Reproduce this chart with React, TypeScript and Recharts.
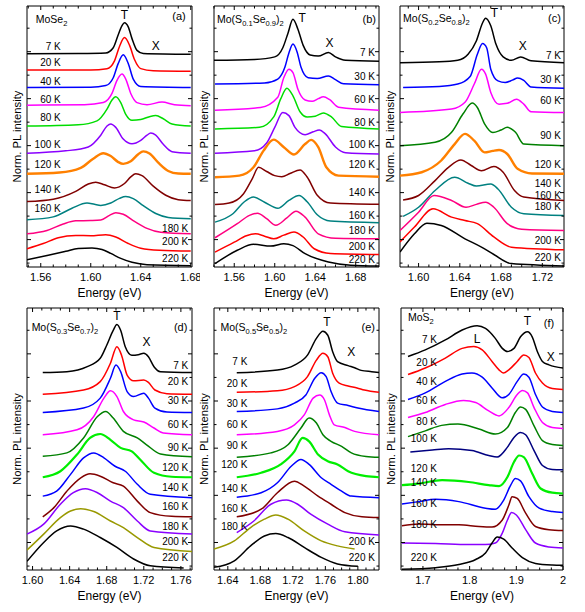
import React from 'react';
import { LineChart, Line, XAxis, YAxis, ReferenceDot, ReferenceArea } from 'recharts';

type Pt = [number, number];
const FONT = '"Liberation Sans", Arial, Helvetica, sans-serif';

// ---------------- Panel (a) MoSe2 ----------------
const tempsA = ['7 K', '20 K', '40 K', '60 K', '80 K', '100 K', '120 K', '140 K', '160 K', '180 K', '200 K', '220 K'];
const spectraA: Pt[][] = [
  [[1.549,8.17],[1.590,8.18],[1.612,8.20],[1.618,8.40],[1.622,8.90],[1.625,9.25],[1.627,9.36],[1.630,9.20],[1.633,8.75],[1.637,8.30],[1.642,8.18],[1.680,8.15]],
  [[1.549,7.55],[1.600,7.55],[1.613,7.60],[1.619,7.90],[1.623,8.45],[1.627,8.79],[1.631,8.50],[1.635,7.95],[1.640,7.60],[1.650,7.52],[1.680,7.50]],
  [[1.549,6.88],[1.600,6.89],[1.612,6.95],[1.618,7.25],[1.622,7.80],[1.626,8.13],[1.630,7.80],[1.634,7.20],[1.640,6.92],[1.680,6.88]],
  [[1.549,6.20],[1.595,6.22],[1.610,6.30],[1.617,6.65],[1.621,7.15],[1.625,7.39],[1.628,7.20],[1.632,6.65],[1.637,6.30],[1.645,6.22],[1.657,6.32],[1.667,6.22],[1.680,6.18]],
  [[1.549,5.40],[1.590,5.45],[1.605,5.60],[1.613,6.05],[1.617,6.40],[1.620,6.52],[1.624,6.30],[1.628,5.85],[1.633,5.62],[1.640,5.65],[1.647,5.76],[1.652,5.80],[1.658,5.68],[1.665,5.48],[1.680,5.40]],
  [[1.549,4.36],[1.580,4.45],[1.598,4.60],[1.608,5.05],[1.613,5.40],[1.616,5.48],[1.620,5.35],[1.626,4.90],[1.633,4.72],[1.640,4.85],[1.645,5.05],[1.648,5.13],[1.652,5.05],[1.658,4.70],[1.665,4.42],[1.680,4.36]],
  [[1.549,3.57],[1.575,3.62],[1.592,3.80],[1.602,4.15],[1.610,4.36],[1.616,4.25],[1.622,4.02],[1.626,3.95],[1.632,4.05],[1.638,4.32],[1.642,4.43],[1.647,4.35],[1.654,4.00],[1.662,3.68],[1.670,3.58],[1.680,3.57]],
  [[1.549,2.51],[1.570,2.60],[1.588,2.90],[1.598,3.18],[1.604,3.25],[1.611,3.15],[1.619,3.03],[1.627,3.20],[1.632,3.45],[1.636,3.57],[1.641,3.50],[1.650,3.10],[1.660,2.75],[1.670,2.58],[1.680,2.55]],
  [[1.549,1.81],[1.570,1.92],[1.585,2.25],[1.597,2.45],[1.603,2.40],[1.608,2.36],[1.616,2.45],[1.623,2.63],[1.628,2.70],[1.634,2.62],[1.642,2.35],[1.652,2.05],[1.662,1.90],[1.680,1.85]],
  [[1.549,1.27],[1.565,1.40],[1.578,1.65],[1.588,1.77],[1.600,1.78],[1.608,1.80],[1.615,1.98],[1.620,2.08],[1.626,2.02],[1.635,1.75],[1.645,1.48],[1.656,1.33],[1.680,1.27]],
  [[1.549,0.70],[1.562,0.90],[1.574,1.12],[1.588,1.21],[1.600,1.20],[1.612,1.24],[1.620,1.15],[1.630,0.90],[1.640,0.72],[1.655,0.64],[1.680,0.61]],
  [[1.549,0.28],[1.566,0.45],[1.580,0.60],[1.590,0.71],[1.601,0.73],[1.609,0.67],[1.616,0.52],[1.624,0.33],[1.633,0.18],[1.645,0.09],[1.680,0.05]],
];
const tempXA = [1.576,1.576,1.576,1.576,1.576,1.576,1.576,1.576,1.576,1.678,1.678,1.678];
const tempYA = [8.47,7.83,7.13,6.43,5.73,4.71,3.95,2.99,2.23,1.46,0.99,0.32];
const ticksA = [1.56, 1.60, 1.64, 1.68];

// ---------------- Panel (b) Mo(S0.1Se0.9)2 ----------------
const tempsB = ['7 K', '30 K', '60 K', '80 K', '100 K', '120 K', '140 K', '160 K', '180 K', '200 K', '220 K'];
const spectraB: Pt[][] = [
  [[1.540,7.92],[1.580,7.95],[1.600,8.05],[1.608,8.40],[1.613,8.95],[1.618,9.49],[1.623,9.10],[1.628,8.50],[1.635,8.12],[1.643,8.08],[1.653,8.22],[1.660,8.05],[1.670,7.92],[1.703,7.88]],
  [[1.541,7.01],[1.590,7.05],[1.603,7.20],[1.610,7.65],[1.614,8.20],[1.618,8.54],[1.622,8.25],[1.626,7.65],[1.633,7.25],[1.642,7.22],[1.653,7.32],[1.660,7.18],[1.668,7.02],[1.703,6.98]],
  [[1.541,6.01],[1.586,6.11],[1.603,6.50],[1.609,7.26],[1.614,7.58],[1.618,7.45],[1.623,6.80],[1.630,6.40],[1.637,6.35],[1.643,6.45],[1.648,6.52],[1.654,6.42],[1.663,6.12],[1.703,6.01]],
  [[1.541,5.29],[1.585,5.35],[1.599,5.75],[1.606,6.45],[1.612,6.85],[1.618,6.56],[1.625,5.95],[1.632,5.75],[1.640,5.78],[1.648,5.90],[1.656,5.75],[1.666,5.38],[1.703,5.29]],
  [[1.541,4.36],[1.580,4.45],[1.592,4.75],[1.600,5.35],[1.608,5.92],[1.614,5.80],[1.620,5.35],[1.630,5.07],[1.638,5.18],[1.644,5.25],[1.650,5.10],[1.660,4.60],[1.670,4.38],[1.703,4.33]],
  [[1.541,3.44],[1.565,3.50],[1.579,3.82],[1.589,4.46],[1.599,4.88],[1.609,4.59],[1.619,4.31],[1.630,4.71],[1.636,4.87],[1.643,4.59],[1.651,3.82],[1.663,3.50],[1.703,3.46]],
  [[1.541,2.39],[1.555,2.45],[1.569,2.80],[1.578,3.40],[1.584,3.82],[1.592,3.66],[1.600,3.50],[1.607,3.46],[1.615,3.58],[1.625,3.72],[1.632,3.45],[1.642,2.75],[1.655,2.45],[1.703,2.40]],
  [[1.541,1.72],[1.559,2.05],[1.570,2.50],[1.579,2.68],[1.590,2.48],[1.603,2.25],[1.614,2.55],[1.624,2.74],[1.632,2.50],[1.642,2.00],[1.655,1.76],[1.703,1.70]],
  [[1.541,1.12],[1.563,1.66],[1.575,1.98],[1.583,2.06],[1.592,1.85],[1.601,1.60],[1.612,1.88],[1.621,2.14],[1.630,1.91],[1.643,1.27],[1.660,1.10],[1.703,1.08]],
  [[1.541,0.57],[1.560,0.95],[1.572,1.20],[1.581,1.27],[1.590,1.18],[1.599,1.08],[1.609,1.22],[1.619,1.34],[1.628,1.15],[1.639,0.70],[1.655,0.52],[1.703,0.48]],
  [[1.541,0.13],[1.563,0.64],[1.579,0.87],[1.596,0.80],[1.609,0.89],[1.618,0.82],[1.630,0.51],[1.653,0.19],[1.675,0.07],[1.703,0.04]],
];
const tempXB = [1.699,1.699,1.699,1.699,1.699,1.699,1.699,1.699,1.699,1.699,1.699];
const tempYB = [8.22,7.32,6.43,5.54,4.71,3.95,2.84,1.97,1.40,0.79,0.28];
const ticksB = [1.56, 1.60, 1.64, 1.68];

// ---------------- Panel (c) Mo(S0.2Se0.8)2 ----------------
const tempsC = ['7 K', '30 K', '60 K', '90 K', '120 K', '140 K', '160 K', '180 K', '200 K', '220 K'];
const spectraC: Pt[][] = [
  [[1.582,7.83],[1.620,7.86],[1.638,7.92],[1.648,8.15],[1.656,8.66],[1.662,9.35],[1.665,9.53],[1.670,9.24],[1.675,8.54],[1.682,8.05],[1.690,7.92],[1.699,8.05],[1.709,7.90],[1.741,7.83]],
  [[1.585,6.88],[1.620,6.92],[1.638,7.01],[1.650,7.30],[1.657,8.15],[1.662,8.56],[1.666,8.40],[1.670,7.58],[1.677,7.13],[1.684,7.07],[1.691,7.16],[1.696,7.24],[1.702,7.15],[1.709,6.90],[1.741,6.85]],
  [[1.582,5.92],[1.632,6.05],[1.645,6.31],[1.654,7.01],[1.661,7.58],[1.665,7.39],[1.670,6.69],[1.678,6.24],[1.686,6.27],[1.695,6.43],[1.702,6.24],[1.709,5.95],[1.741,5.92]],
  [[1.582,4.65],[1.616,4.78],[1.632,5.16],[1.643,5.86],[1.652,6.28],[1.657,6.11],[1.664,5.48],[1.672,5.15],[1.680,5.25],[1.686,5.35],[1.694,5.16],[1.702,4.71],[1.741,4.65]],
  [[1.582,3.50],[1.603,3.63],[1.622,4.08],[1.635,4.71],[1.645,5.10],[1.654,4.84],[1.664,4.39],[1.672,4.45],[1.678,4.48],[1.686,4.33],[1.696,3.76],[1.710,3.58],[1.741,3.57]],
  [[1.585,2.57],[1.600,2.74],[1.616,3.31],[1.629,3.82],[1.641,4.10],[1.651,3.89],[1.661,3.69],[1.673,3.85],[1.682,3.63],[1.693,2.93],[1.702,2.68],[1.741,2.55]],
  [[1.585,1.94],[1.600,2.29],[1.616,2.93],[1.635,3.44],[1.648,3.21],[1.656,3.10],[1.670,3.18],[1.677,2.99],[1.690,2.29],[1.702,2.04],[1.741,1.97]],
  [[1.582,1.40],[1.600,2.10],[1.615,2.74],[1.632,2.55],[1.646,2.29],[1.656,2.40],[1.665,2.48],[1.673,2.29],[1.686,1.66],[1.700,1.45],[1.741,1.40]],
  [[1.582,0.96],[1.596,1.53],[1.614,2.23],[1.632,1.91],[1.645,1.78],[1.657,1.66],[1.673,1.15],[1.690,0.76],[1.741,0.66]],
  [[1.582,0.57],[1.596,1.27],[1.608,1.68],[1.622,1.59],[1.645,1.08],[1.661,0.76],[1.673,0.48],[1.690,0.13],[1.741,0.04]],
];
const tempXC = [1.738,1.738,1.738,1.738,1.738,1.738,1.738,1.738,1.738,1.738];
const tempYC = [8.09,7.20,6.37,5.03,3.95,3.21,2.76,2.32,1.02,0.38];
const ticksC = [1.60, 1.64, 1.68, 1.72];

// ---------------- Panel (d) Mo(S0.3Se0.7)2 ----------------
const tempsD = ['7 K', '20 K', '30 K', '60 K', '90 K', '120 K', '140 K', '160 K', '180 K', '200 K', '220 K'];
const spectraD: Pt[][] = [
  [[1.611,7.54],[1.637,7.57],[1.659,7.76],[1.673,8.08],[1.680,8.58],[1.687,9.15],[1.691,9.37],[1.695,9.15],[1.700,8.52],[1.707,8.20],[1.714,8.22],[1.720,8.27],[1.725,8.14],[1.731,7.76],[1.738,7.57],[1.772,7.54]],
  [[1.611,6.71],[1.655,6.87],[1.673,7.19],[1.684,7.89],[1.691,8.52],[1.696,8.20],[1.702,7.44],[1.709,7.22],[1.720,7.25],[1.725,7.16],[1.732,6.87],[1.745,6.73],[1.772,6.71]],
  [[1.611,6.01],[1.655,6.18],[1.673,6.56],[1.684,7.32],[1.690,7.82],[1.695,7.57],[1.702,6.81],[1.709,6.62],[1.720,6.75],[1.725,6.56],[1.732,6.18],[1.745,6.03],[1.772,6.01]],
  [[1.611,5.16],[1.648,5.35],[1.666,5.86],[1.677,6.56],[1.684,6.84],[1.691,6.62],[1.698,6.05],[1.709,5.73],[1.720,5.65],[1.731,5.42],[1.741,5.23],[1.772,5.16]],
  [[1.611,4.34],[1.637,4.47],[1.655,5.04],[1.670,5.86],[1.679,6.05],[1.687,5.80],[1.698,5.29],[1.713,5.04],[1.723,4.78],[1.738,4.43],[1.772,4.32]],
  [[1.611,3.54],[1.630,3.77],[1.648,4.41],[1.662,5.04],[1.673,5.19],[1.684,4.97],[1.695,4.66],[1.707,4.53],[1.716,4.22],[1.731,3.71],[1.750,3.56],[1.772,3.54]],
  [[1.611,2.82],[1.626,3.01],[1.641,3.65],[1.655,4.28],[1.666,4.47],[1.677,4.28],[1.689,3.96],[1.700,3.77],[1.713,3.27],[1.727,2.89],[1.772,2.76]],
  [[1.611,2.03],[1.623,2.38],[1.637,3.01],[1.652,3.52],[1.662,3.67],[1.673,3.58],[1.687,3.33],[1.698,3.20],[1.713,2.63],[1.727,2.19],[1.750,2.05],[1.772,2.03]],
  [[1.594,1.37],[1.612,1.75],[1.630,2.51],[1.644,2.95],[1.657,3.10],[1.670,2.95],[1.684,2.63],[1.698,2.38],[1.713,1.87],[1.727,1.49],[1.772,1.37]],
  [[1.594,0.76],[1.612,1.37],[1.630,2.00],[1.641,2.25],[1.652,2.34],[1.666,2.23],[1.684,1.87],[1.698,1.62],[1.713,1.24],[1.731,0.86],[1.772,0.71]],
  [[1.594,0.33],[1.612,1.05],[1.626,1.49],[1.641,1.68],[1.655,1.56],[1.673,1.24],[1.691,0.86],[1.709,0.42],[1.727,0.16],[1.763,0.08]],
];
const tempXD = [1.768,1.768,1.768,1.768,1.768,1.768,1.768,1.768,1.768,1.768,1.768];
const tempYD = [7.82,7.19,6.46,5.57,4.68,3.90,3.14,2.41,1.68,1.09,0.48];
const ticksD = [1.60, 1.64, 1.68, 1.72, 1.76];

// ---------------- Panel (e) Mo(S0.5Se0.5)2 ----------------
const tempsE = ['7 K', '20 K', '30 K', '60 K', '90 K', '120 K', '140 K', '160 K', '180 K', '200 K', '220 K'];
const spectraE: Pt[][] = [
  [[1.651,7.53],[1.701,7.63],[1.722,7.82],[1.738,8.20],[1.749,8.84],[1.757,9.11],[1.763,8.96],[1.769,8.33],[1.775,7.95],[1.788,7.80],[1.796,7.72],[1.804,7.62],[1.817,7.57],[1.826,7.54]],
  [[1.651,6.78],[1.701,6.84],[1.722,7.00],[1.738,7.38],[1.749,8.01],[1.757,8.27],[1.763,8.14],[1.769,7.51],[1.777,7.13],[1.788,7.02],[1.799,6.95],[1.808,6.87],[1.826,6.78]],
  [[1.651,6.05],[1.701,6.15],[1.722,6.37],[1.736,6.68],[1.747,7.32],[1.755,7.53],[1.761,7.38],[1.767,6.81],[1.775,6.37],[1.788,6.28],[1.800,6.18],[1.826,6.05]],
  [[1.651,5.16],[1.701,5.29],[1.722,5.54],[1.734,5.92],[1.745,6.56],[1.753,6.68],[1.759,6.49],[1.765,5.92],[1.771,5.54],[1.784,5.44],[1.796,5.29],[1.826,5.16]],
  [[1.651,4.30],[1.693,4.47],[1.714,4.78],[1.730,5.42],[1.740,5.80],[1.749,5.61],[1.757,5.16],[1.767,4.91],[1.780,4.72],[1.792,4.47],[1.810,4.33],[1.826,4.30]],
  [[1.651,3.54],[1.681,3.71],[1.705,4.03],[1.722,4.53],[1.732,5.04],[1.740,4.91],[1.751,4.41],[1.763,4.15],[1.775,4.03],[1.788,3.77],[1.810,3.58],[1.826,3.54]],
  [[1.651,2.78],[1.681,2.95],[1.701,3.33],[1.718,3.96],[1.730,4.22],[1.740,4.03],[1.755,3.52],[1.767,3.27],[1.780,3.01],[1.792,2.82],[1.826,2.76]],
  [[1.651,2.03],[1.681,2.32],[1.701,2.95],[1.722,3.39],[1.734,3.20],[1.751,2.82],[1.767,2.51],[1.784,2.19],[1.805,2.03],[1.826,2.00]],
  [[1.651,1.43],[1.672,1.87],[1.693,2.51],[1.712,2.67],[1.726,2.51],[1.742,2.13],[1.763,1.75],[1.784,1.46],[1.826,1.34]],
  [[1.623,0.80],[1.648,1.11],[1.668,1.62],[1.685,1.94],[1.699,2.10],[1.714,1.94],[1.734,1.49],[1.755,1.11],[1.775,0.92],[1.796,0.80]],
  [[1.623,0.10],[1.648,0.35],[1.668,0.92],[1.685,1.30],[1.699,1.39],[1.714,1.24],[1.734,0.86],[1.755,0.48],[1.775,0.23],[1.800,0.14]],
];
const tempXE = [1.664,1.664,1.664,1.664,1.664,1.664,1.664,1.664,1.664,1.821,1.821];
const tempYE = [7.95,7.13,6.37,5.54,4.76,4.03,3.11,2.35,1.68,1.11,0.48];
const ticksE = [1.64, 1.68, 1.72, 1.76, 1.80];

// ---------------- Panel (f) MoS2 ----------------
const tempsF = ['7 K', '20 K', '40 K', '60 K', '80 K', '100 K', '120 K', '140 K', '160 K', '180 K', '220 K'];
const spectraF: Pt[][] = [
  [[1.668,8.15],[1.705,8.40],[1.748,8.78],[1.784,9.16],[1.816,9.32],[1.834,9.22],[1.855,8.84],[1.870,8.46],[1.881,8.34],[1.895,8.46],[1.909,8.90],[1.924,9.09],[1.934,8.90],[1.945,8.34],[1.956,7.96],[1.970,7.83],[2.000,7.71]],
  [[1.668,7.46],[1.705,7.71],[1.748,8.09],[1.784,8.46],[1.809,8.53],[1.827,8.40],[1.848,7.96],[1.863,7.64],[1.872,7.52],[1.884,7.64],[1.902,7.96],[1.916,8.21],[1.927,8.11],[1.941,7.52],[1.956,7.14],[1.977,6.93],[2.000,6.89]],
  [[1.668,6.51],[1.705,6.76],[1.748,7.20],[1.784,7.48],[1.805,7.52],[1.827,7.36],[1.848,6.95],[1.870,6.57],[1.884,6.70],[1.902,7.20],[1.916,7.48],[1.927,7.36],[1.941,6.70],[1.956,6.22],[1.977,6.05],[2.000,6.01]],
  [[1.668,5.82],[1.705,6.01],[1.748,6.32],[1.787,6.47],[1.813,6.39],[1.841,6.07],[1.863,5.88],[1.884,6.20],[1.902,6.70],[1.913,6.85],[1.924,6.76],[1.938,6.20],[1.956,5.63],[1.977,5.44],[2.000,5.40]],
  [[1.668,5.09],[1.705,5.31],[1.740,5.52],[1.775,5.57],[1.820,5.38],[1.855,5.19],[1.881,5.44],[1.898,6.01],[1.909,6.22],[1.920,6.13],[1.938,5.50],[1.956,4.94],[1.977,4.79],[2.000,4.75]],
  [[1.673,4.50],[1.720,4.58],[1.755,4.63],[1.805,4.56],[1.841,4.37],[1.859,4.31],[1.881,4.69],[1.895,5.06],[1.909,5.25],[1.920,5.16],[1.938,4.56],[1.956,3.99],[1.977,3.84],[2.000,3.83]],
  [[1.655,3.24],[1.691,3.30],[1.741,3.43],[1.798,3.36],[1.841,3.24],[1.863,3.20],[1.881,3.55],[1.895,4.12],[1.906,4.37],[1.916,4.31],[1.934,3.68],[1.952,3.11],[1.977,2.95],[2.000,2.92]],
  [[1.655,2.52],[1.691,2.61],[1.727,2.70],[1.777,2.61],[1.834,2.36],[1.855,2.32],[1.873,2.67],[1.888,3.24],[1.898,3.49],[1.909,3.40],[1.927,2.80],[1.949,2.36],[1.977,2.23],[2.000,2.19]],
  [[1.655,1.69],[1.691,1.76],[1.727,1.73],[1.777,1.73],[1.820,1.66],[1.848,1.64],[1.870,1.91],[1.884,2.48],[1.891,2.80],[1.902,2.73],[1.920,2.17],[1.941,1.66],[1.970,1.54],[2.000,1.51]],
  [[1.655,1.03],[1.727,1.01],[1.798,0.97],[1.834,0.97],[1.855,1.03],[1.870,1.41],[1.881,1.91],[1.890,2.19],[1.900,2.10],[1.920,1.54],[1.941,1.03],[1.970,0.88],[2.000,0.84]],
  [[1.655,0.03],[1.727,0.09],[1.777,0.21],[1.813,0.40],[1.834,0.65],[1.848,1.03],[1.859,1.26],[1.873,1.18],[1.891,0.84],[1.913,0.47],[1.941,0.25],[1.977,0.19],[2.000,0.18]],
];
const tempXF = [1.730,1.730,1.730,1.730,1.730,1.730,1.730,1.730,1.730,1.730,1.730];
const tempYF = [8.82,7.93,7.20,6.47,5.67,5.04,3.87,3.33,2.54,1.73,0.47];
const ticksF = [1.7, 1.8, 1.9, 2.0];

// ---------------- styling ----------------
const BLACK = '#000000', RED = '#ff0000', BLUE = '#0000ff', MAG = '#ff00ff', GREEN = '#00dd00',
  PURPLE = '#8a00ff', ORANGE = '#ff8000', BROWN = '#800000', TEAL = '#008080', PINK = '#ff0080',
  DKGREEN = '#008000', LTGREEN = '#00ee00', OLIVE = '#999900', NAVY = '#000080';
const colorsA = [BLACK, RED, BLUE, MAG, GREEN, PURPLE, ORANGE, BROWN, TEAL, PINK, RED, BLACK];
const colorsB = [BLACK, BLUE, MAG, GREEN, PURPLE, ORANGE, BROWN, TEAL, PINK, RED, BLACK];
const colorsC = [BLACK, BLUE, MAG, DKGREEN, ORANGE, BROWN, TEAL, PINK, RED, BLACK];
const colorsD = [BLACK, RED, BLUE, MAG, DKGREEN, LTGREEN, BLUE, BROWN, PURPLE, OLIVE, BLACK];
const colorsE = [BLACK, RED, BLUE, MAG, DKGREEN, LTGREEN, BLUE, BROWN, PURPLE, OLIVE, BLACK];
const colorsF = [BLACK, RED, BLUE, MAG, DKGREEN, NAVY, LTGREEN, BLUE, BROWN, PURPLE, BLACK];

const yMajor = [1.05, 2.85, 4.65, 6.45, 8.25];
const yMinor = [0.15, 1.95, 3.75, 5.55, 7.35, 9.15];

type Note = { text: string[]; x: number; y: number; anchor: 'start' | 'middle' | 'end'; size: number };

type Panel = {
  left: number; top: number; w: number; h: number;
  domain: [number, number]; majors: number[]; minorStep: number; twoDec: boolean;
  curves: Pt[][]; colors: string[]; temps: string[]; tx: number[]; ty: number[];
  notes: Note[];
};

const panels: Panel[] = [
  { left: 27, top: 5, w: 165, h: 262, domain: [1.549, 1.681], majors: ticksA, minorStep: 0.01, twoDec: true,
    curves: spectraA, colors: colorsA, temps: tempsA, tx: tempXA, ty: tempYA,
    notes: [
      { text: ['MoSe', '_2'], x: 1.556, y: 9.49, anchor: 'start', size: 10.5 },
      { text: ['T'], x: 1.627, y: 9.68, anchor: 'middle', size: 12 },
      { text: ['X'], x: 1.652, y: 8.47, anchor: 'middle', size: 12 },
      { text: ['(a)'], x: 1.676, y: 9.62, anchor: 'end', size: 11 },
    ] },
  { left: 214, top: 5, w: 165, h: 262, domain: [1.540, 1.703], majors: ticksB, minorStep: 0.01, twoDec: true,
    curves: spectraB, colors: colorsB, temps: tempsB, tx: tempXB, ty: tempYB,
    notes: [
      { text: ['Mo(S', '_0.1', 'Se', '_0.9', ')', '_2'], x: 1.543, y: 9.49, anchor: 'start', size: 10.5 },
      { text: ['T'], x: 1.627, y: 9.55, anchor: 'middle', size: 12 },
      { text: ['X'], x: 1.654, y: 8.60, anchor: 'middle', size: 12 },
      { text: ['(b)'], x: 1.700, y: 9.49, anchor: 'end', size: 11 },
    ] },
  { left: 400, top: 5, w: 164, h: 262, domain: [1.582, 1.741], majors: ticksC, minorStep: 0.01, twoDec: true,
    curves: spectraC, colors: colorsC, temps: tempsC, tx: tempXC, ty: tempYC,
    notes: [
      { text: ['Mo(S', '_0.2', 'Se', '_0.8', ')', '_2'], x: 1.585, y: 9.55, anchor: 'start', size: 10.5 },
      { text: ['T'], x: 1.6735, y: 9.75, anchor: 'middle', size: 12 },
      { text: ['X'], x: 1.701, y: 8.47, anchor: 'middle', size: 12 },
      { text: ['(c)'], x: 1.738, y: 9.55, anchor: 'end', size: 11 },
    ] },
  { left: 27, top: 307, w: 165, h: 263, domain: [1.594, 1.772], majors: ticksD, minorStep: 0.01, twoDec: true,
    curves: spectraD, colors: colorsD, temps: tempsD, tx: tempXD, ty: tempYD,
    notes: [
      { text: ['Mo(S', '_0.3', 'Se', '_0.7', ')', '_2'], x: 1.599, y: 9.28, anchor: 'start', size: 10.5 },
      { text: ['T'], x: 1.691, y: 9.72, anchor: 'middle', size: 12 },
      { text: ['X'], x: 1.723, y: 8.73, anchor: 'middle', size: 12 },
      { text: ['(d)'], x: 1.767, y: 9.28, anchor: 'end', size: 11 },
    ] },
  { left: 214, top: 307, w: 165, h: 263, domain: [1.623, 1.826], majors: ticksE, minorStep: 0.01, twoDec: true,
    curves: spectraE, colors: colorsE, temps: tempsE, tx: tempXE, ty: tempYE,
    notes: [
      { text: ['Mo(S', '_0.5', 'Se', '_0.5', ')', '_2'], x: 1.631, y: 9.28, anchor: 'start', size: 10.5 },
      { text: ['T'], x: 1.762, y: 9.49, anchor: 'middle', size: 12 },
      { text: ['X'], x: 1.792, y: 8.35, anchor: 'middle', size: 12 },
      { text: ['(e)'], x: 1.821, y: 9.28, anchor: 'end', size: 11 },
    ] },
  { left: 401, top: 307, w: 162, h: 263, domain: [1.653, 2.0], majors: ticksF, minorStep: 0.025, twoDec: false,
    curves: spectraF, colors: colorsF, temps: tempsF, tx: tempXF, ty: tempYF,
    notes: [
      { text: ['MoS', '_2'], x: 1.668, y: 9.66, anchor: 'start', size: 10.5 },
      { text: ['L'], x: 1.816, y: 8.84, anchor: 'middle', size: 12 },
      { text: ['T'], x: 1.924, y: 9.53, anchor: 'middle', size: 12 },
      { text: ['X'], x: 1.974, y: 8.15, anchor: 'middle', size: 12 },
      { text: ['(f)'], x: 1.981, y: 9.41, anchor: 'end', size: 11 },
    ] },
];

function makeTicks(lo: number, hi: number, step: number): number[] {
  const out: number[] = [];
  const start = Math.ceil(lo / step - 1e-6);
  for (let i = start; i * step <= hi + 1e-6; i++) out.push(Number((i * step).toFixed(4)));
  return out;
}

function richText(segs: string[], size: number) {
  let sub = false;
  return segs.map((s, i) => {
    const isSub = s.startsWith('_');
    const txt = isSub ? s.slice(1) : s;
    let dy = 0;
    if (isSub && !sub) dy = size * 0.32;
    if (!isSub && sub) dy = -size * 0.32;
    sub = isSub;
    return (
      <tspan key={i} dy={dy} fontSize={isSub ? size * 0.72 : size}>{txt}</tspan>
    );
  });
}

function textShape(segs: string[], anchor: string, size: number) {
  return (props: any) => (
    <text x={props.cx} y={props.cy + size * 0.36} textAnchor={anchor} fontSize={size}
      fontFamily={FONT} fill="#000">
      {richText(segs, size)}
    </text>
  );
}

const yTitleShape = (props: any) => {
  const cx = props.cx - 10;
  const cy = props.cy;
  return (
    <text x={cx} y={cy} textAnchor="middle" dominantBaseline="central" fontSize={11.3} fontFamily={FONT} fill="#000"
      transform={`rotate(-90, ${cx}, ${cy})`}>
      Norm. PL intensity
    </text>
  );
};

function PanelChart({ p }: { p: Panel }) {
  const ML = 24, MR = 7, MT = 5, XH = 38;
  const width = ML + 1 + p.w + 1 + MR;
  const height = MT + p.h + XH;
  const xt = makeTicks(p.domain[0], p.domain[1], p.minorStep);
  const isMajor = (v: number) => p.majors.some((m) => Math.abs(m - v) < 1e-6);
  const fmt = (v: number) => (p.twoDec ? v.toFixed(2) : String(Number(v.toFixed(2))));
  const yt = [...yMajor, ...yMinor].sort((a, b) => a - b);
  const isYMajor = (v: number) => yMajor.some((m) => Math.abs(m - v) < 1e-6);

  const bottomTick = (t: any) => {
    const v = t.payload.value;
    const maj = isMajor(v);
    return (
      <g>
        <line x1={t.x} x2={t.x} y1={t.y} y2={t.y - (maj ? 4 : 2.5)} stroke="#000" strokeWidth={1} />
        {maj && (
          <text x={t.x} y={t.y + 14} textAnchor="middle" fontSize={11} fontFamily={FONT} fill="#000">{fmt(v)}</text>
        )}
      </g>
    );
  };
  const topTick = (t: any) => {
    const maj = isMajor(t.payload.value);
    return <line x1={t.x} x2={t.x} y1={t.y} y2={t.y + (maj ? 4 : 2.5)} stroke="#000" strokeWidth={1} />;
  };
  const leftTick = (t: any) => {
    const maj = isYMajor(t.payload.value);
    return <line x1={t.x} x2={t.x + (maj ? 4 : 2.5)} y1={t.y} y2={t.y} stroke="#000" strokeWidth={1} />;
  };
  const rightTick = (t: any) => {
    const maj = isYMajor(t.payload.value);
    return <line x1={t.x} x2={t.x - (maj ? 4 : 2.5)} y1={t.y} y2={t.y} stroke="#000" strokeWidth={1} />;
  };
  const xTitle = (lp: any) => {
    const vb = lp.viewBox || {};
    return (
      <text x={vb.x + vb.width / 2} y={vb.y + 30} textAnchor="middle" fontSize={12} fontFamily={FONT} fill="#000">
        Energy (eV)
      </text>
    );
  };

  return (
    <div style={{ position: 'absolute', left: p.left - ML - 1, top: p.top - MT }}>
      <LineChart width={width} height={height} margin={{ top: MT, right: MR, bottom: 0, left: ML }}>
        <XAxis xAxisId="b" type="number" dataKey="x" scale="linear" domain={p.domain} allowDataOverflow
          ticks={xt} interval={0} tickSize={0} tickMargin={0} tickLine={false} height={XH}
          axisLine={false} tick={bottomTick} label={xTitle} />
        <XAxis xAxisId="t" orientation="top" type="number" dataKey="x" scale="linear" domain={p.domain} allowDataOverflow
          ticks={xt} interval={0} tickSize={0} tickMargin={0} tickLine={false} height={1}
          axisLine={false} tick={topTick} />
        <YAxis yAxisId="l" type="number" domain={[0, 10]} allowDataOverflow ticks={yt} interval={0}
          tickSize={0} tickMargin={0} tickLine={false} width={1}
          axisLine={false} tick={leftTick} />
        <YAxis yAxisId="r" orientation="right" type="number" domain={[0, 10]} allowDataOverflow ticks={yt} interval={0}
          tickSize={0} tickMargin={0} tickLine={false} width={1}
          axisLine={false} tick={rightTick} />
        <ReferenceArea xAxisId="b" yAxisId="l" x1={p.domain[0]} x2={p.domain[1]} y1={0} y2={10}
          fill="none" fillOpacity={0} stroke="#000" strokeWidth={1} ifOverflow="visible" />
        {p.curves.map((c, i) => (
          <Line key={`c${i}`} xAxisId="b" yAxisId="l" data={c.map(([x, y]) => ({ x, y }))} dataKey="y"
            type="monotone" stroke={p.colors[i]}
            strokeWidth={p.colors[i] === ORANGE ? 2.4 : p.colors[i] === LTGREEN ? 2.2 : 1.5}
            dot={false} activeDot={false} isAnimationActive={false} />
        ))}
        <ReferenceDot xAxisId="b" yAxisId="l" x={p.domain[0]} y={5} r={0} ifOverflow="visible" shape={yTitleShape} />
        {p.temps.map((t, i) => (
          <ReferenceDot key={`t${i}`} xAxisId="b" yAxisId="l" x={p.tx[i]} y={p.ty[i]} r={0} ifOverflow="visible"
            shape={textShape([t], 'end', 10)} />
        ))}
        {p.notes.map((n, i) => (
          <ReferenceDot key={`n${i}`} xAxisId="b" yAxisId="l" x={n.x} y={n.y} r={0} ifOverflow="visible"
            shape={textShape(n.text, n.anchor, n.size)} />
        ))}
      </LineChart>
    </div>
  );
}

export default function App() {
  return (
    <div style={{ position: 'absolute', left: 0, top: 0, width: 585, height: 612, background: '#fff', fontFamily: FONT }}>
      {panels.map((p, i) => (
        <PanelChart key={i} p={p} />
      ))}
    </div>
  );
}
